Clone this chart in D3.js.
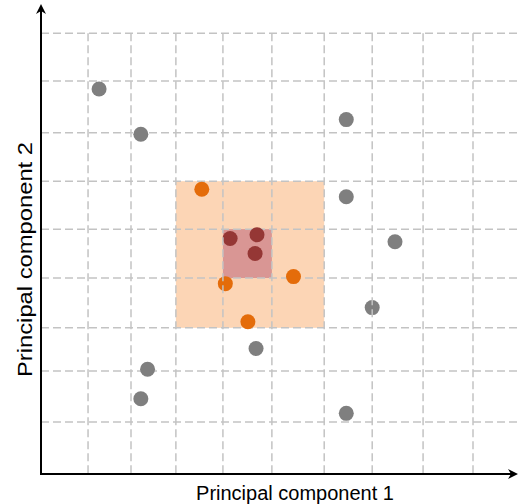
<!DOCTYPE html>
<html>
<head>
<meta charset="utf-8">
<script src="https://cdn.jsdelivr.net/npm/d3@7"></script>
<style>
  html, body { margin: 0; padding: 0; background: #fff; }
  svg { display: block; }
</style>
</head>
<body>
<svg id="chart" width="519" height="504"></svg>
<script>
// ---- data ----
const gridX = [0.98, 1.875, 2.81, 3.79, 4.81, 5.90, 6.90, 7.96, 9.0];
const gridY = [1.106, 2.19, 3.11, 4.17, 5.21, 6.23, 7.26, 8.36, 9.38];

const grayX = [1.21, 2.08, 6.36, 6.36, 7.375, 6.90, 4.48, 2.22, 2.08, 6.36];
const grayY = [8.19, 7.23, 7.54, 5.90, 4.94, 3.54, 2.67, 2.23, 1.60, 1.29];

const orangeX = [3.35, 3.84, 4.31, 5.26];
const orangeY = [6.06, 4.05, 3.24, 4.20];

const redX = [3.94, 4.50, 4.46];
const redY = [5.01, 5.09, 4.69];

const outerBoxX = [2.81, 5.90];
const outerBoxY = [3.11, 6.23];
const innerBoxX = [3.79, 4.81];
const innerBoxY = [4.17, 5.21];

const xLabel = "Principal component 1";
const yLabel = "Principal component 2";

// ---- drawing ----
const svg = d3.select("#chart");
const x = d3.scaleLinear().domain([0, 10]).range([41, 521]);
const y = d3.scaleLinear().domain([0, 10]).range([474, 4]);

function box(xs, ys, fill) {
  svg.append("rect")
    .attr("x", x(xs[0])).attr("y", y(ys[1]))
    .attr("width", x(xs[1]) - x(xs[0]))
    .attr("height", y(ys[0]) - y(ys[1]))
    .attr("fill", fill);
}
box(outerBoxX, outerBoxY, "#fcd5b5");
box(innerBoxX, innerBoxY, "#d99694");

function gridGroup() {
  return svg.append("g")
    .attr("stroke", "#c3c3c3")
    .attr("stroke-width", 1.5)
    .attr("stroke-dasharray", "8,4")
    .attr("fill", "none");
}
// horizontal grid under points
gridGroup().selectAll("line").data(gridY).join("line")
  .attr("x1", x(0)).attr("x2", 519)
  .attr("y1", d => y(d)).attr("y2", d => y(d));

function pts(xs, ys, fill, r) {
  svg.append("g").selectAll("circle")
    .data(xs.map((v, i) => [v, ys[i]]))
    .join("circle")
    .attr("cx", d => x(d[0])).attr("cy", d => y(d[1]))
    .attr("r", r).attr("fill", fill);
}
pts(grayX, grayY, "#7f7f7f", 7.5);
pts(orangeX, orangeY, "#e46c0a", 7.5);
pts(redX, redY, "#953735", 7.5);

// vertical grid over points, as in reference
gridGroup().selectAll("line").data(gridX).join("line")
  .attr("x1", d => x(d)).attr("x2", d => x(d))
  .attr("y1", y(gridY[gridY.length - 1])).attr("y2", y(0));

// axes with arrows
const defs = svg.append("defs");
defs.append("marker")
  .attr("id", "arrow")
  .attr("viewBox", "0 0 10 10")
  .attr("refX", 8).attr("refY", 5)
  .attr("markerWidth", 5).attr("markerHeight", 5)
  .attr("markerUnits", "strokeWidth")
  .attr("orient", "auto")
  .append("path")
  .attr("d", "M0,0 L10,5 L0,10 L3,5 Z")
  .attr("fill", "#000");

svg.append("line")
  .attr("x1", x(0)).attr("y1", y(0))
  .attr("x2", x(0)).attr("y2", 6)
  .attr("stroke", "#000").attr("stroke-width", 2)
  .attr("marker-end", "url(#arrow)");
svg.append("line")
  .attr("x1", x(0) - 1).attr("y1", y(0))
  .attr("x2", 516).attr("y2", y(0))
  .attr("stroke", "#000").attr("stroke-width", 2)
  .attr("marker-end", "url(#arrow)");

// labels
svg.append("text")
  .attr("x", 295).attr("y", 500)
  .attr("text-anchor", "middle")
  .attr("font-family", "Liberation Sans, Arial, sans-serif")
  .attr("font-size", 20)
  .attr("fill", "#000")
  .text(xLabel);

svg.append("text")
  .attr("transform", "translate(32,259.5) rotate(-90)")
  .attr("text-anchor", "middle")
  .attr("font-family", "Liberation Sans, Arial, sans-serif")
  .attr("font-size", 20)
  .attr("textLength", 235)
  .attr("lengthAdjust", "spacingAndGlyphs")
  .attr("fill", "#000")
  .text(yLabel);
</script>
</body>
</html>
